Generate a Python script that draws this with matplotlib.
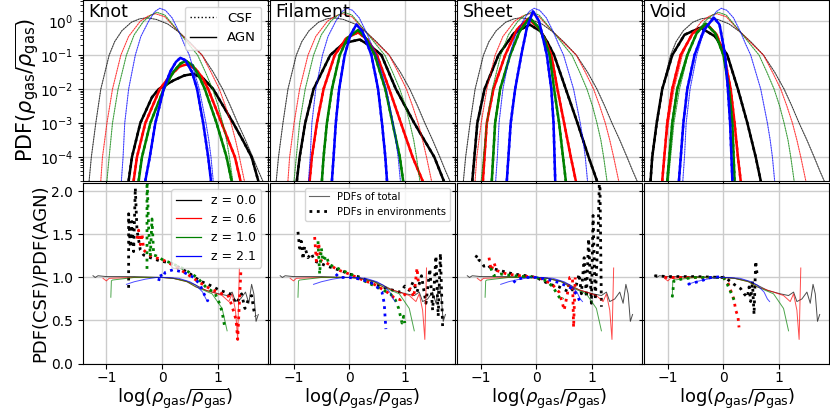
import matplotlib
matplotlib.use("Agg")
import matplotlib.pyplot as plt
from matplotlib.lines import Line2D
import numpy as np

# ---------------- data ----------------
environments = ["Knot", "Filament", "Sheet", "Void"]
redshifts = ["z = 0.0", "z = 0.6", "z = 1.0", "z = 2.1"]
colors = ["k", "r", "g", "b"]

# total PDFs (log10 PDF vs log density), same in every panel
tot_x_z00 = [-1.31, -1.27, -1.19, -1.10, -0.95, -0.85, -0.72, -0.55, -0.40, -0.27, -0.10, 0.10, 0.31, 0.50, 0.72, 0.92, 1.09, 1.23, 1.36, 1.50, 1.63, 1.73, 1.81]
tot_l_z00 = [-4.7, -4.0, -3.0, -2.0, -1.0, -0.6, -0.28, -0.03, 0.07, 0.10, 0.05, -0.08, -0.33, -0.62, -1.0, -1.5, -2.0, -2.5, -3.0, -3.5, -4.0, -4.4, -4.7]
tot_x_z06 = [-1.10, -1.07, -0.99, -0.89, -0.74, -0.60, -0.39, -0.25, -0.12, 0.05, 0.31, 0.50, 0.72, 0.88, 1.03, 1.14, 1.24, 1.32, 1.39, 1.48]
tot_l_z06 = [-4.7, -4.0, -3.0, -2.0, -1.0, -0.45, 0.0, 0.15, 0.22, 0.13, -0.33, -0.65, -1.0, -1.5, -2.0, -2.5, -3.0, -3.5, -4.0, -4.7]
tot_x_z10 = [-0.99, -0.95, -0.89, -0.79, -0.64, -0.50, -0.33, -0.20, -0.09, 0.05, 0.31, 0.48, 0.64, 0.78, 0.91, 1.01, 1.09, 1.16, 1.21, 1.27]
tot_l_z10 = [-4.7, -4.0, -3.0, -2.0, -1.0, -0.4, 0.0, 0.18, 0.26, 0.18, -0.33, -0.68, -1.0, -1.5, -2.0, -2.5, -3.0, -3.5, -4.0, -4.7]
tot_x_z21 = [-0.73, -0.70, -0.67, -0.60, -0.48, -0.38, -0.24, -0.13, -0.04, 0.06, 0.18, 0.31, 0.40, 0.49, 0.58, 0.67, 0.73, 0.79, 0.84, 0.88, 0.92]
tot_l_z21 = [-4.7, -4.0, -3.0, -2.0, -1.0, -0.45, 0.0, 0.28, 0.38, 0.32, 0.10, -0.33, -0.68, -1.0, -1.5, -2.0, -2.5, -3.0, -3.5, -4.0, -4.7]

# environment PDFs
knot_x_z00 = [-0.60, -0.54, -0.39, -0.18, -0.06, 0.20, 0.40, 0.57, 0.75, 0.92, 1.10, 1.28, 1.45, 1.61, 1.73]
knot_l_z00 = [-4.7, -4.0, -3.0, -2.24, -2.0, -1.75, -1.6, -1.55, -1.7, -2.0, -2.5, -3.0, -3.5, -4.0, -4.7]
knot_x_z06 = [-0.51, -0.45, -0.30, -0.04, 0.15, 0.32, 0.45, 0.60, 0.72, 0.83, 1.07, 1.31, 1.41]
knot_l_z06 = [-4.7, -4.0, -3.0, -2.0, -1.6, -1.33, -1.27, -1.4, -1.65, -2.0, -3.0, -4.0, -4.7]
knot_x_z10 = [-0.42, -0.36, -0.21, 0.03, 0.21, 0.33, 0.43, 0.55, 0.66, 0.77, 0.98, 1.16, 1.25]
knot_l_z10 = [-4.7, -4.0, -3.0, -2.0, -1.48, -1.25, -1.17, -1.3, -1.6, -2.0, -3.0, -4.0, -4.7]
knot_x_z21 = [-0.30, -0.22, -0.12, 0.03, 0.15, 0.25, 0.33, 0.42, 0.54, 0.63, 0.74, 0.83, 0.88]
knot_l_z21 = [-4.7, -4.0, -3.0, -2.0, -1.48, -1.2, -1.08, -1.15, -1.5, -2.0, -3.0, -4.0, -4.7]

fil_x_z00 = [-0.94, -0.89, -0.79, -0.64, -0.34, -0.10, 0.19, 0.40, 0.58, 0.84, 1.17, 1.53, 1.70]
fil_l_z00 = [-4.7, -4.0, -3.0, -2.0, -1.0, -0.65, -0.54, -0.75, -1.0, -2.0, -3.0, -4.0, -4.7]
fil_x_z06 = [-0.71, -0.67, -0.58, -0.46, -0.26, -0.05, 0.16, 0.33, 0.50, 0.72, 0.93, 1.14, 1.32]
fil_l_z06 = [-4.7, -4.0, -3.0, -2.0, -1.0, -0.5, -0.33, -0.55, -1.0, -2.0, -3.0, -4.0, -4.7]
fil_x_z10 = [-0.49, -0.46, -0.40, -0.31, -0.17, -0.03, 0.16, 0.30, 0.46, 0.65, 0.78, 0.91, 0.97]
fil_l_z10 = [-4.7, -4.0, -3.0, -2.0, -1.0, -0.5, -0.26, -0.5, -1.0, -2.0, -3.0, -4.0, -4.7]
fil_x_z21 = [-0.31, -0.28, -0.24, -0.18, -0.08, 0.02, 0.13, 0.24, 0.40, 0.52, 0.59, 0.65, 0.68]
fil_l_z21 = [-4.7, -4.0, -3.0, -2.0, -1.0, -0.42, -0.1, -0.3, -1.0, -2.0, -3.0, -4.0, -4.7]

sheet_x_z00 = [-1.15, -1.06, -0.93, -0.68, -0.40, -0.12, 0.08, 0.20, 0.32, 0.53, 0.74, 0.94, 1.09]
sheet_l_z00 = [-4.7, -3.0, -2.0, -1.0, -0.35, -0.1, -0.3, -0.62, -1.0, -2.0, -3.0, -4.0, -4.7]
sheet_x_z06 = [-0.96, -0.89, -0.77, -0.56, -0.35, -0.15, 0.05, 0.17, 0.27, 0.38, 0.50, 0.62, 0.71]
sheet_l_z06 = [-4.7, -3.0, -2.0, -1.0, -0.25, 0.07, -0.2, -0.6, -1.0, -2.0, -3.0, -4.0, -4.7]
sheet_x_z10 = [-0.80, -0.74, -0.65, -0.47, -0.30, -0.12, 0.05, 0.15, 0.24, 0.32, 0.41, 0.48, 0.53]
sheet_l_z10 = [-4.7, -3.0, -2.0, -1.0, -0.3, 0.10, -0.2, -0.55, -1.0, -2.0, -3.0, -4.0, -4.7]
sheet_x_z21 = [-0.53, -0.46, -0.38, -0.27, -0.17, -0.06, 0.05, 0.12, 0.19, 0.27, 0.31, 0.34]
sheet_l_z21 = [-4.7, -3.0, -2.0, -1.0, -0.2, 0.29, 0.0, -0.5, -1.0, -2.0, -3.0, -4.7]

void_x_z00 = [-1.31, -1.28, -1.20, -1.10, -0.92, -0.70, -0.41, -0.15, 0.07, 0.26, 0.43, 0.58, 0.67]
void_l_z00 = [-4.7, -4.0, -3.0, -2.0, -1.0, -0.4, -0.19, -0.45, -1.0, -2.0, -3.0, -4.0, -4.7]
void_x_z06 = [-1.10, -1.01, -0.92, -0.77, -0.55, -0.29, -0.12, 0.01, 0.13, 0.20, 0.26, 0.31]
void_l_z06 = [-4.7, -3.0, -2.0, -1.0, -0.35, -0.1, -0.4, -1.0, -2.0, -3.0, -4.0, -4.7]
void_x_z10 = [-1.01, -0.92, -0.83, -0.65, -0.48, -0.32, -0.15, 0.00, 0.10, 0.16, 0.20]
void_l_z10 = [-4.7, -3.0, -2.0, -1.0, -0.35, -0.07, -0.35, -1.0, -2.0, -3.0, -4.7]
void_x_z21 = [-0.80, -0.72, -0.65, -0.52, -0.35, -0.17, -0.07, 0.03, 0.08, 0.12, 0.16]
void_l_z21 = [-4.7, -3.0, -2.0, -1.0, -0.25, 0.10, -0.1, -1.0, -2.0, -3.0, -4.7]

# ratio of totals PDF(CSF)/PDF(AGN), same in every panel
rtot_x_z00 = [-1.24, -1.20, -1.15, -1.0, -0.5, 0.0, 0.2, 0.43, 0.61, 0.79, 1.02, 1.17, 1.26, 1.32, 1.41, 1.50, 1.56, 1.61, 1.65, 1.69, 1.73]
rtot_y_z00 = [1.02, 1.0, 1.02, 1.01, 1.01, 1.0, 0.99, 0.96, 0.91, 0.85, 0.81, 0.79, 0.83, 0.72, 0.75, 0.83, 0.70, 0.92, 0.81, 0.49, 0.57]
rtot_x_z06 = [-1.06, -1.0, -0.95, -0.5, 0.0, 0.2, 0.45, 0.61, 0.9, 1.08, 1.2, 1.26, 1.32, 1.36, 1.39]
rtot_y_z06 = [0.99, 0.96, 0.99, 1.0, 1.0, 0.99, 0.95, 0.89, 0.83, 0.79, 0.72, 0.81, 0.62, 0.28, 1.11]
rtot_x_z10 = [-0.92, -0.91, -0.89, -0.5, 0.0, 0.2, 0.45, 0.61, 0.9, 1.08, 1.17]
rtot_y_z10 = [0.77, 0.96, 0.97, 1.0, 1.0, 0.99, 0.95, 0.89, 0.81, 0.64, 0.38]
rtot_x_z21 = [-0.64, -0.5, -0.3, -0.1, 0.1, 0.3, 0.5, 0.61, 0.73, 0.79, 0.83]
rtot_y_z21 = [0.92, 0.95, 0.98, 1.0, 1.0, 0.99, 0.95, 0.91, 0.83, 0.75, 0.72]

# ratio in environments
rknot_x_z00 = [-0.60, -0.60, -0.57, -0.54, -0.51, -0.48, -0.45, -0.39, -0.33, -0.21, -0.03, 0.15, 0.33, 0.51, 0.68, 0.86, 1.04, 1.22, 1.34, 1.43, 1.49, 1.55, 1.61, 1.65, 1.68]
rknot_y_z00 = [0.88, 1.74, 1.35, 1.65, 1.30, 2.04, 1.55, 1.32, 1.26, 1.23, 1.19, 1.17, 1.11, 1.04, 0.96, 0.91, 0.85, 0.81, 0.70, 0.81, 0.64, 0.74, 0.79, 0.62, 0.55]
rknot_x_z06 = [-0.45, -0.42, -0.39, -0.36, -0.33, -0.27, -0.18, 0.0, 0.23, 0.45, 0.68, 0.86, 1.04, 1.20, 1.28, 1.33, 1.36, 1.39, 1.42]
rknot_y_z06 = [1.45, 1.55, 1.38, 1.51, 1.32, 1.28, 1.24, 1.21, 1.13, 1.04, 0.94, 0.87, 0.82, 0.78, 0.62, 0.51, 0.28, 0.70, 1.11]
rknot_x_z10 = [-0.27, -0.27, -0.24, -0.21, -0.18, -0.15, -0.10, 0.0, 0.15, 0.39, 0.63, 0.80, 0.95, 1.02, 1.08, 1.12]
rknot_y_z10 = [1.10, 2.20, 1.57, 1.25, 1.68, 1.26, 1.25, 1.21, 1.17, 1.10, 1.0, 0.88, 0.82, 0.72, 0.60, 0.45]
rknot_x_z21 = [-0.06, -0.03, 0.0, 0.06, 0.20, 0.39, 0.57, 0.68, 0.74, 0.80, 0.83]
rknot_y_z21 = [0.96, 1.04, 1.0, 1.06, 1.09, 1.06, 1.0, 0.92, 0.83, 0.75, 0.72]

rfil_x_z00 = [-0.92, -0.89, -0.86, -0.83, -0.80, -0.74, -0.68, -0.62, -0.39, -0.15, 0.0, 0.21, 0.45, 0.68, 0.92, 1.0, 1.08, 1.15, 1.22, 1.30, 1.38, 1.45, 1.50, 1.56, 1.60, 1.64, 1.68]
rfil_y_z00 = [1.53, 1.34, 1.42, 1.21, 1.36, 1.23, 1.28, 1.19, 1.13, 1.08, 1.04, 1.0, 0.92, 0.87, 0.83, 0.90, 0.85, 0.95, 0.83, 1.02, 0.70, 1.10, 0.62, 1.25, 0.55, 1.28, 0.42]
rfil_x_z06 = [-0.62, -0.59, -0.55, -0.50, -0.41, -0.21, 0.0, 0.21, 0.45, 0.68, 0.80, 0.92, 1.04, 1.10, 1.16, 1.22, 1.25]
rfil_y_z06 = [1.47, 1.19, 1.40, 1.19, 1.17, 1.09, 1.04, 0.98, 0.92, 0.83, 0.77, 0.74, 0.83, 0.87, 0.77, 1.11, 0.90]
rfil_x_z10 = [-0.56, -0.53, -0.50, -0.47, -0.41, -0.36, -0.15, 0.09, 0.33, 0.56, 0.74, 0.83, 0.89, 0.95, 0.98, 1.0]
rfil_y_z10 = [1.42, 1.04, 1.34, 1.19, 1.25, 1.15, 1.09, 1.02, 0.94, 0.87, 0.81, 0.74, 0.64, 0.47, 0.55, 0.47]
rfil_x_z21 = [-0.24, -0.18, 0.0, 0.21, 0.39, 0.50, 0.59, 0.63, 0.66]
rfil_y_z21 = [1.04, 1.0, 1.0, 0.98, 0.94, 0.89, 0.83, 0.70, 0.40]

rsheet_x_z00 = [-1.09, -1.06, -1.03, -1.0, -0.94, -0.88, -0.82, -0.65, -0.41, -0.18, 0.0, 0.24, 0.41, 0.59, 0.71, 0.77, 0.81, 0.86, 0.90, 0.94, 0.99, 1.02, 1.06, 1.11, 1.14, 1.17]
rsheet_y_z00 = [1.23, 1.26, 1.20, 1.19, 1.13, 1.15, 1.11, 1.08, 1.04, 1.02, 1.0, 0.92, 0.89, 0.83, 0.89, 1.04, 0.81, 1.23, 0.77, 1.45, 0.70, 1.72, 0.74, 1.50, 2.30, 0.66]
rsheet_x_z06 = [-0.85, -0.81, -0.76, -0.71, -0.53, -0.29, 0.0, 0.12, 0.30, 0.41, 0.47, 0.50, 0.56, 0.60, 0.65, 0.67, 0.70]
rsheet_y_z06 = [1.23, 1.08, 1.17, 1.08, 1.04, 1.02, 1.0, 0.98, 0.91, 0.83, 0.70, 0.62, 0.81, 1.0, 1.0, 0.42, 1.0]
rsheet_x_z10 = [-0.82, -0.76, -0.65, -0.41, 0.0, 0.18, 0.30, 0.39, 0.45, 0.49]
rsheet_y_z10 = [1.11, 1.02, 1.04, 1.02, 1.0, 0.96, 0.89, 0.79, 0.74, 0.76]
rsheet_x_z21 = [-0.41, -0.35, -0.18, 0.0, 0.18, 0.41, 0.65, 0.74, 0.77, 0.80]
rsheet_y_z21 = [0.94, 0.98, 1.0, 1.0, 0.98, 0.94, 0.87, 0.79, 0.74, 0.70]

rvoid_x_z00 = [-1.24, -1.0, -0.5, 0.0, 0.07, 0.19, 0.31, 0.37, 0.43, 0.46, 0.49, 0.52, 0.55, 0.58, 0.61]
rvoid_y_z00 = [1.02, 1.01, 1.01, 1.0, 0.98, 0.92, 0.87, 0.81, 0.77, 0.89, 0.72, 0.96, 0.57, 1.19, 1.0]
rvoid_x_z06 = [-1.06, -0.5, 0.0, 0.07, 0.13, 0.19, 0.22, 0.26, 0.28]
rvoid_y_z06 = [1.0, 1.0, 1.0, 0.96, 0.85, 0.74, 0.62, 0.55, 0.42]
rvoid_x_z10 = [-0.92, -0.89, -0.76, -0.52, 0.0, 0.07, 0.13, 0.19]
rvoid_y_z10 = [0.77, 0.96, 0.98, 1.0, 1.0, 0.92, 0.83, 0.74]
rvoid_x_z21 = [-0.64, -0.40, -0.23, 0.01]
rvoid_y_z21 = [0.92, 0.96, 1.0, 1.01]

pdf_ticks = [1e-4, 1e-3, 1e-2, 1e-1, 1e0]
ratio_ticks = [0.0, 0.5, 1.0, 1.5, 2.0]
x_ticks = [-1, 0, 1]

# ---------------- assemble ----------------
tot_pdf = [(tot_x_z00, tot_l_z00), (tot_x_z06, tot_l_z06), (tot_x_z10, tot_l_z10), (tot_x_z21, tot_l_z21)]
env_pdf = [
    [(knot_x_z00, knot_l_z00), (knot_x_z06, knot_l_z06), (knot_x_z10, knot_l_z10), (knot_x_z21, knot_l_z21)],
    [(fil_x_z00, fil_l_z00), (fil_x_z06, fil_l_z06), (fil_x_z10, fil_l_z10), (fil_x_z21, fil_l_z21)],
    [(sheet_x_z00, sheet_l_z00), (sheet_x_z06, sheet_l_z06), (sheet_x_z10, sheet_l_z10), (sheet_x_z21, sheet_l_z21)],
    [(void_x_z00, void_l_z00), (void_x_z06, void_l_z06), (void_x_z10, void_l_z10), (void_x_z21, void_l_z21)],
]
tot_ratio = [(rtot_x_z00, rtot_y_z00), (rtot_x_z06, rtot_y_z06), (rtot_x_z10, rtot_y_z10), (rtot_x_z21, rtot_y_z21)]
env_ratio = [
    [(rknot_x_z00, rknot_y_z00), (rknot_x_z06, rknot_y_z06), (rknot_x_z10, rknot_y_z10), (rknot_x_z21, rknot_y_z21)],
    [(rfil_x_z00, rfil_y_z00), (rfil_x_z06, rfil_y_z06), (rfil_x_z10, rfil_y_z10), (rfil_x_z21, rfil_y_z21)],
    [(rsheet_x_z00, rsheet_y_z00), (rsheet_x_z06, rsheet_y_z06), (rsheet_x_z10, rsheet_y_z10), (rsheet_x_z21, rsheet_y_z21)],
    [(rvoid_x_z00, rvoid_y_z00), (rvoid_x_z06, rvoid_y_z06), (rvoid_x_z10, rvoid_y_z10), (rvoid_x_z21, rvoid_y_z21)],
]

fig = plt.figure(figsize=(8.3, 4.15), dpi=100)
gs = fig.add_gridspec(2, 4, left=0.1, right=0.999, bottom=0.124, top=1.0, wspace=0.013, hspace=0.011)

thin_kw = dict(lw=0.7, alpha=0.6)
thick_lw = 1.8

for j, env in enumerate(environments):
    ax = fig.add_subplot(gs[0, j])
    axr = fig.add_subplot(gs[1, j])
    for i, c in enumerate(colors):
        xt, lt = tot_pdf[i]
        yt = 10 ** np.array(lt)
        ax.plot(xt, yt, color=c, ls='-', **thin_kw)
        ax.plot(xt, yt, color=c, ls=':', **thin_kw)
        xe, le = env_pdf[j][i]
        ye = 10 ** np.array(le)
        ax.plot(xe, ye, color=c, ls='-', lw=thick_lw)
        ax.plot(xe, ye, color=c, ls=':', lw=thick_lw)
        xr, yr = tot_ratio[i]
        axr.plot(xr, yr, color=c, ls='-', lw=0.7, alpha=0.7)
        xer, yer = env_ratio[j][i]
        axr.plot(xer, yer, color=c, ls=':', lw=2.0)
    ax.set_yscale('log')
    ax.set_ylim(2e-5, 4.2)
    ax.set_xlim(-1.42, 1.9)
    ax.set_yticks(pdf_ticks)
    ax.set_xticks(x_ticks)
    ax.grid(True, color='0.8', lw=1.0)
    ax.tick_params(labelbottom=False, labelsize=10)
    ax.text(0.03, 0.985, env, transform=ax.transAxes, ha='left', va='top', fontsize=12.5)

    axr.set_ylim(0, 2.1)
    axr.set_xlim(-1.42, 1.9)
    axr.set_yticks(ratio_ticks)
    axr.set_xticks(x_ticks)
    axr.grid(True, color='0.8', lw=1.0)
    axr.tick_params(labelsize=10)
    axr.tick_params(axis='x', pad=2)
    axr.set_xlabel(r'log($\rho_{\rm gas}/\overline{\rho_{\rm gas}}$)', fontsize=13)
    axr.xaxis.set_label_coords(0.5, -0.125)

    if j == 0:
        ax.set_ylabel(r'PDF($\rho_{\rm gas}/\overline{\rho_{\rm gas}}$)', fontsize=15)
        ax.yaxis.set_label_coords(-0.22, 0.5)
        axr.set_ylabel('PDF(CSF)/PDF(AGN)', fontsize=13)
        axr.yaxis.set_label_coords(-0.18, 0.5)
        h1 = [Line2D([], [], color='k', ls=':', lw=1.0), Line2D([], [], color='k', ls='-', lw=1.0)]
        ax.legend(h1, ['CSF', 'AGN'], loc='upper right', fontsize=9.5)
        h2 = [Line2D([], [], color=c, lw=0.9) for c in colors]
        axr.legend(h2, redshifts, loc='upper right', fontsize=9, labelspacing=0.45)
    else:
        ax.tick_params(labelleft=False, which='both')
        axr.tick_params(labelleft=False)
    if j == 1:
        h3 = [Line2D([], [], color='0.4', ls='-', lw=0.8), Line2D([], [], color='k', ls=':', lw=2.0)]
        axr.legend(h3, ['PDFs of total', 'PDFs in environments'], loc='upper right', fontsize=7.2)

fig.savefig('out.png', dpi=100)
